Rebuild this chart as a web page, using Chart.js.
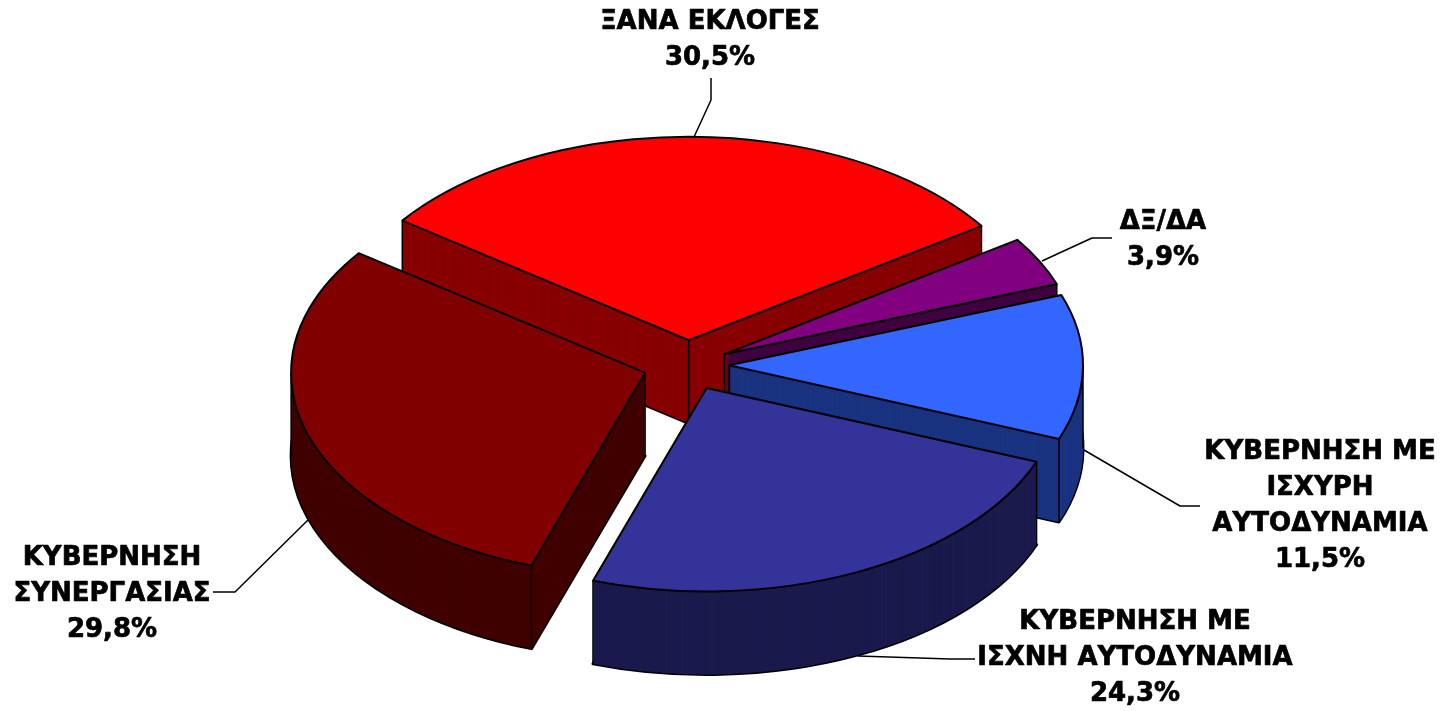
<!DOCTYPE html>
<html>
<head>
<meta charset="utf-8">
<title>3D pie</title>
<script src="https://cdn.jsdelivr.net/npm/chart.js@4"></script>
<style>
  html, body { margin: 0; background: #fff; }
  canvas { display: block; }
</style>
</head>
<body>
<canvas id="chart" width="1447" height="711"></canvas>
<script>
const categories = [
  ["ΞΑΝΑ ΕΚΛΟΓΕΣ"],
  ["ΔΞ/ΔΑ"],
  ["ΚΥΒΕΡΝΗΣΗ ΜΕ", "ΙΣΧΥΡΗ", "ΑΥΤΟΔΥΝΑΜΙΑ"],
  ["ΚΥΒΕΡΝΗΣΗ ΜΕ", "ΙΣΧΝΗ ΑΥΤΟΔΥΝΑΜΙΑ"],
  ["ΚΥΒΕΡΝΗΣΗ", "ΣΥΝΕΡΓΑΣΙΑΣ"],
];
const values = [30.5, 3.9, 11.5, 24.3, 29.8];
const topColors = ["#ff0000", "#800080", "#3366ff", "#333399", "#800000"];
const wallColors = ["#880000", "#400040", "#1a3380", "#1a1a4d", "#400000"];

// label placement: centre x, first line centre y, then the leader line
const labelCenters = [[710, 22], [1163, 222], [1320, 452], [1135, 622], [112, 558]];
const leaders = [
  [[711, 78], [711, 100], [694, 137]],
  [[1112, 238], [1092, 238], [1042, 261]],
  [[1084, 450], [1180, 506], [1200, 506]],
  [[858, 656], [950, 659], [975, 659]],
  [[308, 520], [235, 592], [213, 592]],
];
const explodes = [43, 41, 41, 44, 45];

const SQUASH = 0.575;
const DEPTH = 83;
const LINE_H = 36;

// maps the flat chart.js circle to the tilted, pulled apart slice
const tilt = (ctx, arc, i, shiftY) => {
  const mid = (arc.startAngle + arc.endAngle) / 2;
  ctx.translate(arc.x, arc.y + shiftY);
  ctx.scale(1, SQUASH);
  ctx.translate(Math.cos(mid) * explodes[i], Math.sin(mid) * explodes[i]);
};

// path is built under the transform, stroked after it so lines stay even
const tracePath = (ctx, arc, i, shiftY) => {
  ctx.save();
  tilt(ctx, arc, i, shiftY);
  ctx.beginPath();
  ctx.moveTo(0, 0);
  ctx.arc(0, 0, arc.outerRadius, arc.startAngle, arc.endAngle);
  ctx.closePath();
  ctx.restore();
};

const cornerLines = (ctx, arc, i) => {
  const { startAngle: a, endAngle: b, outerRadius: r } = arc;
  const mid = (a + b) / 2;
  const cx = arc.x + Math.cos(mid) * explodes[i];
  const cy = arc.y + Math.sin(mid) * explodes[i] * SQUASH;
  const rim = (t) => [cx + Math.cos(t) * r, cy + Math.sin(t) * r * SQUASH];
  const points = [[cx, cy]];
  // a corner only shows if the cut face or the rim next to it faces us
  if (Math.cos(a) < 0 || Math.sin(a) > 0) points.push(rim(a));
  if (Math.cos(b) > 0 || Math.sin(b) > 0) points.push(rim(b));
  // left and right extremes of the ellipse
  for (let t = Math.ceil(a / Math.PI) * Math.PI; t < b; t += Math.PI) points.push(rim(t));
  ctx.beginPath();
  points.forEach(([x, y]) => {
    ctx.moveTo(x, y);
    ctx.lineTo(x, y + DEPTH);
  });
  ctx.stroke();
};

const pie3d = {
  id: "pie3d",
  beforeDatasetsDraw(chart) {
    const { ctx } = chart;
    const arcs = chart.getDatasetMeta(0).data.map((arc, i) => ({ arc, i }));
    // back slices first
    arcs.sort((a, b) =>
      Math.sin((a.arc.startAngle + a.arc.endAngle) / 2) -
      Math.sin((b.arc.startAngle + b.arc.endAngle) / 2));

    arcs.forEach(({ arc, i }) => {
      ctx.strokeStyle = "#000";
      ctx.lineWidth = 3;
      tracePath(ctx, arc, i, DEPTH);
      ctx.stroke();

      ctx.fillStyle = wallColors[i];
      for (let y = DEPTH; y > 0; y--) {
        tracePath(ctx, arc, i, y);
        ctx.fill();
      }
      ctx.lineWidth = 1.5;
      cornerLines(ctx, arc, i);

      ctx.save();
      tilt(ctx, arc, i, 0);
      ctx.translate(-arc.x, -arc.y);
      arc.draw(ctx);
      ctx.restore();

      ctx.lineWidth = 2;
      ctx.lineJoin = "round";
      tracePath(ctx, arc, i, 0);
      ctx.stroke();
    });
    return false;
  },
  afterDraw(chart) {
    const { ctx } = chart;
    ctx.save();
    ctx.strokeStyle = "#000";
    ctx.lineWidth = 1.5;
    leaders.forEach((line) => {
      ctx.beginPath();
      line.forEach(([x, y], n) => (n ? ctx.lineTo(x, y) : ctx.moveTo(x, y)));
      ctx.stroke();
    });
    ctx.fillStyle = "#000";
    ctx.lineWidth = 0.7;
    ctx.font = 'bold 26px "DejaVu Sans"';
    ctx.textAlign = "center";
    ctx.textBaseline = "middle";
    categories.forEach((lines, i) => {
      const pct = values[i].toFixed(1).replace(".", ",") + "%";
      const [x, y] = labelCenters[i];
      [...lines, pct].forEach((text, n) => {
        ctx.fillText(text, x, y + n * LINE_H);
        ctx.strokeText(text, x, y + n * LINE_H);
      });
    });
    ctx.restore();
  },
};

new Chart(document.getElementById("chart"), {
  type: "pie",
  data: {
    labels: categories.map((c) => c.join(" ")),
    datasets: [{ data: values, backgroundColor: topColors, borderWidth: 0 }],
  },
  options: {
    responsive: false,
    animation: false,
    rotation: -54,
    radius: 354,
    layout: { padding: { left: 0, right: 71, top: 19, bottom: 0 } },
    plugins: { legend: { display: false }, tooltip: { enabled: false } },
  },
  plugins: [pie3d],
});
</script>
</body>
</html>
